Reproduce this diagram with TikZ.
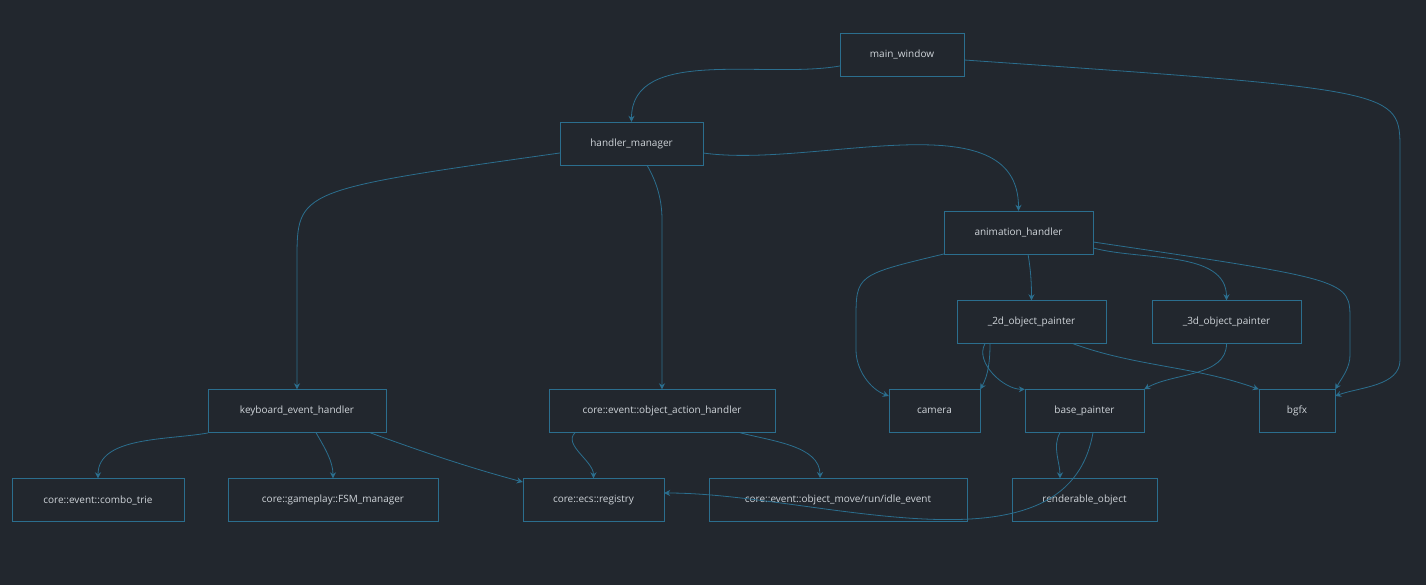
\documentclass[tikz,border=0pt]{standalone}
\usepackage{fontspec}
\setmainfont{Open Sans}
\usepackage{tikz}
\usetikzlibrary{arrows.meta}
\definecolor{bgc}{HTML}{22272E}
\definecolor{edgec}{HTML}{2B6E8E}
\definecolor{txtc}{HTML}{D0D5DA}
\begin{document}
\begin{tikzpicture}
[x=1pt,y=-1pt
,box/.style={draw=edgec,fill=bgc,text=txtc,minimum height=43pt,inner sep=0pt,font=\fontsize{10}{12}\selectfont}
,dep/.style={draw=edgec,thick,arrows={-Stealth[length=6pt,width=6pt]}}
,looseness=0.9]
\fill[bgc] (0,0) rectangle (1426,585);
\node[box,minimum width=124pt] (mw) at (902,54.5) {main\_window};
\node[box,minimum width=143pt] (hm) at (631.5,143.5) {handler\_manager};
\node[box,minimum width=149pt] (ah) at (1018.5,232.5) {animation\_handler};
\node[box,minimum width=149pt] (p2) at (1031.5,322) {\_2d\_object\_painter};
\node[box,minimum width=149pt] (p3) at (1226.5,322) {\_3d\_object\_painter};
\node[box,minimum width=178pt] (keh) at (297,411) {keyboard\_event\_handler};
\node[box,minimum width=226pt] (oah) at (662,411) {core::event::object\_action\_handler};
\node[box,minimum width=91pt] (cam) at (934.5,411) {camera};
\node[box,minimum width=119pt] (bp) at (1084.5,411) {base\_painter};
\node[box,minimum width=76pt] (bgfx) at (1297,411) {bgfx};
\node[box,minimum width=172pt] (ct) at (98,500) {core::event::combo\_trie};
\node[box,minimum width=210pt] (fsm) at (333,500) {core::gameplay::FSM\_manager};
\node[box,minimum width=141pt] (reg) at (593.5,500) {core::ecs::registry};
\node[box,minimum width=258pt] (mv) at (838,500) {core::event::object\_move/run/idle\_event};
\node[box,minimum width=145pt] (ro) at (1084.5,500) {renderable\_object};

\draw[dep] (mw.west|-0,66) to[out=190,in=90] (hm.north);
\draw[dep] (mw.east|-0,60) .. controls (1400,90) and (1400,90) .. (1400,150) -- (1400,360) to[out=270,in=20] (bgfx.east|-0,396);
\draw[dep] (hm.west|-0,153) .. controls (297,190) .. (297,260) -- (keh.north);
\draw[dep] (hm.south-|647,0) to[out=-60,in=90] (662,220) -- (oah.north);
\draw[dep] (hm.east|-0,153) to[out=-8,in=90] (ah.north);
\draw[dep] (ah.west|-0,254) .. controls (856,275) .. (856,320) -- (856,350) to[out=270,in=160] (cam.west|-0,396);
\draw[dep] (ah.south-|1028,0) to[out=-80,in=90] (p2.north);
\draw[dep] (ah.east|-0,248) to[out=-15,in=90] (p3.north);
\draw[dep] (ah.east|-0,242) .. controls (1350,280) .. (1350,320) -- (1350,355) to[out=270,in=60] (bgfx.north east);
\draw[dep] (p2.south-|990,0) to[out=-90,in=60] (cam.north east);
\draw[dep] (p2.south-|985,0) to[out=-120,in=180] (bp.north west);
\draw[dep] (p2.south-|1073,0) to[out=-20,in=160] (bgfx.north west);
\draw[dep] (p3.south) to[out=-90,in=30] (bp.north east);
\draw[dep] (keh.west|-0,433) to[out=190,in=90] (ct.north);
\draw[dep] (keh.south-|316,0) to[out=-60,in=90] (fsm.north);
\draw[dep] (keh.south-|370,0) to[out=-20,in=165] (reg.west|-0,482);
\draw[dep] (oah.south-|575,0) to[out=-135,in=90] (reg.north);
\draw[dep] (oah.south-|740,0) to[out=-15,in=90] (820,478);
\draw[dep] (bp.south-|1060,0) to[out=-120,in=90] (ro.north-|1060,0);
\draw[dep] (bp.south-|1093,0) to[out=-100,in=0] (reg.east|-0,493);
\end{tikzpicture}
\end{document}
